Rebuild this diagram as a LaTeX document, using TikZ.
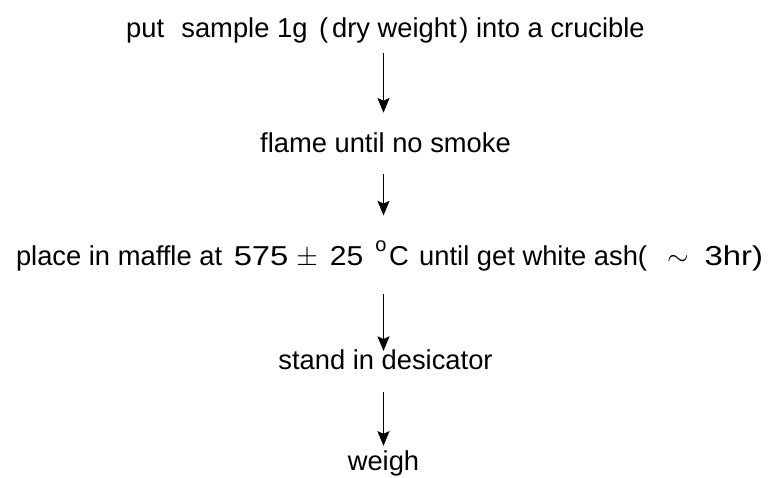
\documentclass[tikz,border=0pt]{standalone}
\usepackage{fontspec}
\setmainfont{Liberation Sans}
\usetikzlibrary{arrows.meta,positioning}

\begin{document}
\begin{tikzpicture}[x=0.75pt,y=-0.75pt,>={Stealth[length=11pt,width=9pt,inset=2pt]},
 font=\fontsize{20.5}{24}\selectfont, line width=1.1pt,
 stp/.style={inner sep=0pt,text height=15pt,text depth=4.5pt}]
\useasboundingbox (0,0) rectangle (769,478);
\node[stp] (put) at (385.5,31) {put\ \ \hspace{1.5pt}sample 1g\hspace{3pt} (\hspace{3pt}dry weight\hspace{2pt}) into a crucible};
\node[stp,below=65.25pt of put] (flame) {flame until no smoke};
\node[stp,below=64pt of flame,xshift=3pt] (maffle) {place in maffle at\hspace{3pt} \scalebox{1.2}[1]{575}\hspace{6pt}$\pm$\hspace{9pt}\scalebox{1.1}[1]{25}\hspace{9pt}\raisebox{0.5em}{\fontsize{15}{15}\selectfont o}\hspace{2pt}C\hspace{2pt} until get white ash(\hspace{15pt}$\sim$\hspace{12pt}\scalebox{1.2}[1]{3hr)}};
\node[stp,below=57.75pt of maffle,xshift=-3pt] (stand) {stand in desicator};
\node[stp,below=55pt of stand,xshift=-1.5pt] (weigh) {weigh};
\draw[->,shorten <=6pt,shorten >=14.25pt] (put.south-|weigh) -- (flame.north-|weigh);
\draw[->,shorten <=11.25pt,shorten >=21.75pt] (flame.south-|weigh) -- (maffle.north-|weigh);
\draw[->,shorten <=16.5pt,shorten >=-1.5pt] (maffle.south-|weigh) -- (stand.north-|weigh);
\draw[->,shorten <=12pt,shorten >=3pt] (stand.south-|weigh) -- (weigh);
\end{tikzpicture}
\end{document}
